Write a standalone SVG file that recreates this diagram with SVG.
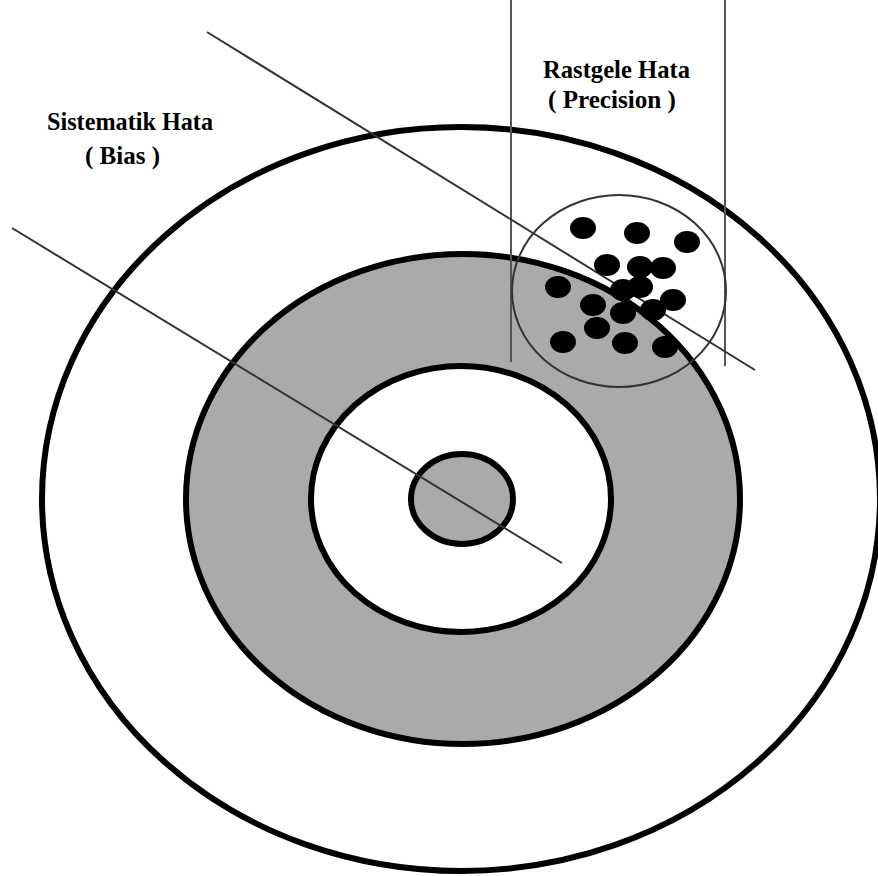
<svg xmlns="http://www.w3.org/2000/svg" width="878" height="876" viewBox="0 0 878 876">
<style>
.ring{stroke:#000;stroke-width:6}
.thin{stroke:#333;stroke-width:2;fill:none}
.vline{stroke:#555;stroke-width:2}
.dot{fill:#000}
.lbl{font-family:'Liberation Serif','Times New Roman','DejaVu Serif',serif;font-weight:bold;font-size:25px;fill:#000}
</style>
<rect width="878" height="876" fill="#fff"/>
<g id="target">
<ellipse class="ring" cx="461" cy="499" rx="419" ry="372" fill="#fff"/>
<ellipse class="ring" cx="463" cy="499" rx="277" ry="245" fill="#aaa"/>
<ellipse class="ring" cx="461" cy="499" rx="150" ry="133" fill="#fff"/>
<ellipse class="ring" cx="462" cy="499" rx="51" ry="45" fill="#aaa"/>
</g>
<g id="connectors">
<line class="vline" x1="511" y1="0" x2="511" y2="362"/>
<line class="vline" x1="725" y1="0" x2="725" y2="366"/>
<line class="thin" x1="12" y1="228" x2="562" y2="563"/>
<line class="thin" x1="207" y1="32" x2="755" y2="370"/>
</g>
<g id="cluster">
<ellipse class="thin" cx="619" cy="291" rx="107" ry="96"/>
<ellipse class="dot" cx="583" cy="228" rx="13" ry="11"/>
<ellipse class="dot" cx="637" cy="233" rx="13" ry="11"/>
<ellipse class="dot" cx="687" cy="242" rx="13" ry="11"/>
<ellipse class="dot" cx="607" cy="265" rx="13" ry="11"/>
<ellipse class="dot" cx="640" cy="267" rx="13" ry="11"/>
<ellipse class="dot" cx="663" cy="268" rx="13" ry="11"/>
<ellipse class="dot" cx="558" cy="287" rx="13" ry="11"/>
<ellipse class="dot" cx="623" cy="290" rx="13" ry="11"/>
<ellipse class="dot" cx="640" cy="287" rx="13" ry="11"/>
<ellipse class="dot" cx="673" cy="300" rx="13" ry="11"/>
<ellipse class="dot" cx="593" cy="305" rx="13" ry="11"/>
<ellipse class="dot" cx="623" cy="313" rx="13" ry="11"/>
<ellipse class="dot" cx="653" cy="310" rx="13" ry="11"/>
<ellipse class="dot" cx="597" cy="328" rx="13" ry="11"/>
<ellipse class="dot" cx="563" cy="342" rx="13" ry="11"/>
<ellipse class="dot" cx="625" cy="343" rx="13" ry="11"/>
<ellipse class="dot" cx="665" cy="347" rx="13" ry="11"/>
</g>
<g id="label-bias">
<text class="lbl" x="47" y="130" textLength="166" lengthAdjust="spacingAndGlyphs">Sistematik Hata</text>
<text class="lbl" x="85" y="164" textLength="75" lengthAdjust="spacingAndGlyphs">( Bias )</text>
</g>
<g id="label-precision">
<text class="lbl" x="543" y="78" textLength="147" lengthAdjust="spacingAndGlyphs">Rastgele Hata</text>
<text class="lbl" x="548" y="108" textLength="128" lengthAdjust="spacingAndGlyphs">( Precision )</text>
</g>
</svg>
